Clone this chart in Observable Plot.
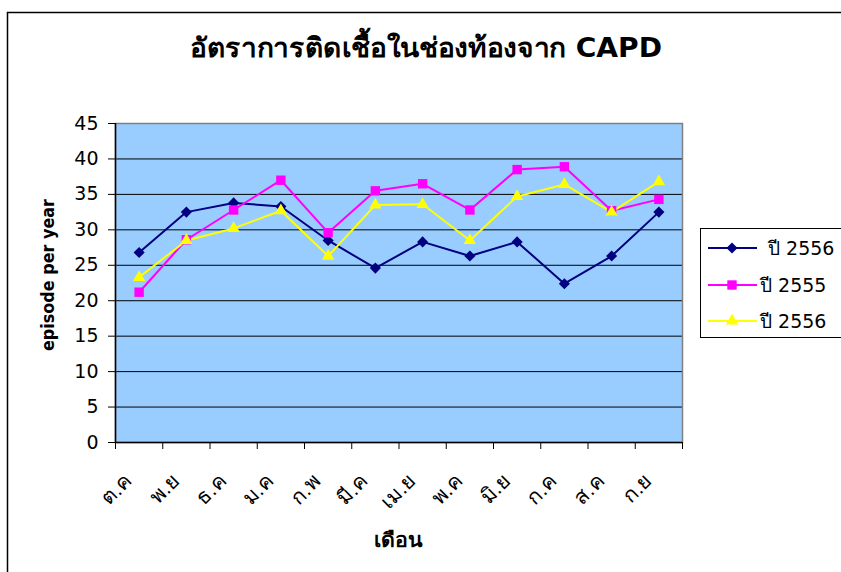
<!DOCTYPE html>
<html>
<head>
<meta charset="utf-8">
<script src="https://cdn.jsdelivr.net/npm/d3@7"></script>
<script src="https://cdn.jsdelivr.net/npm/@observablehq/plot@0.6"></script>
<style>
  html, body { margin: 0; padding: 0; background: #fff; }
  #chart svg { display: block; }
</style>
</head>
<body>
<div id="chart"></div>
<script>
// ---- data ----
const title = "อัตราการติดเชื้อในช่องท้องจาก CAPD";
const yLabel = "episode per year";
const xLabel = "เดือน";
const months = ["ต.ค","พ.ย","ธ.ค","ม.ค","ก.พ","มี.ค","เม.ย","พ.ค","มิ.ย","ก.ค","ส.ค","ก.ย"];
const seriesLabels = ["ปี 2556", "ปี 2555", "ปี 2556"];
const seriesA = [26.8, 32.5, 33.8, 33.3, 28.5, 24.6, 28.3, 26.3, 28.3, 22.4, 26.3, 32.5];
const seriesB = [21.2, 28.6, 32.8, 37.0, 29.6, 35.5, 36.5, 32.8, 38.5, 38.9, 32.7, 34.3];
const seriesC = [23.3, 28.5, 30.2, 32.7, 26.3, 33.5, 33.6, 28.5, 34.7, 36.4, 32.5, 36.8];
const yTicks = [0, 5, 10, 15, 20, 25, 30, 35, 40, 45];

// ---- styles ----
const FONT = "'DejaVu Sans', 'Noto Sans', sans-serif";
const colors = ["#000080", "#FF00FF", "#FFFF00"];
const symbols = ["diamond2", "square", "triangle"];
const radii = [5.0, 5.3, 4.6];

const seriesValues = [seriesA, seriesB, seriesC];
const rows = seriesValues.flatMap((vals, s) =>
  vals.map((v, i) => ({series: s, month: months[i], idx: i, value: v})));

const xPos = d => d.idx + 0.5;

const chart = Plot.plot({
  width: 841,
  height: 572,
  marginLeft: 115,
  marginRight: 159,
  marginTop: 123,
  marginBottom: 130,
  style: {fontFamily: FONT, background: "transparent"},
  x: {domain: [0, months.length], axis: null, label: null},
  y: {domain: [0, 45], axis: null, label: null},
  marks: [
    Plot.frame({fill: "#99CCFF"}),
    Plot.ruleY(yTicks.filter(t => t > 0 && t < 45), {stroke: "#000", strokeWidth: 1}),
    Plot.frame({stroke: "#808080", strokeWidth: 1.5}),
    Plot.ruleY([0], {stroke: "#000", strokeWidth: 1.5}),
    Plot.ruleX([0], {stroke: "#000", strokeWidth: 1.5}),
    Plot.axisY({ticks: yTicks, tickSize: 7, tickPadding: 10, fontSize: 19, label: null,
      tickFormat: d => String(d), stroke: "#000", color: "#000"}),
    Plot.axisX({ticks: d3.range(months.length + 1), tickSize: 7, label: null,
      tickFormat: () => "", stroke: "#000"}),
    ...seriesValues.map((vals, s) =>
      Plot.line(rows.filter(r => r.series === s), {x: xPos, y: "value", stroke: colors[s], strokeWidth: 2})),
    ...seriesValues.map((vals, s) =>
      Plot.dot(rows.filter(r => r.series === s), {x: xPos, y: "value", symbol: () => symbols[s], fill: colors[s], stroke: "none", r: radii[s]})),
    Plot.text(months, {
      x: (d, i) => i + 0.5, y: () => 0, text: d => d,
      rotate: -45, textAnchor: "end", lineAnchor: "bottom",
      dx: -6, dy: 40, fontSize: 21, fill: "#000",
      fontFamily: "'Liberation Sans', Arial, sans-serif"
    })
  ]
});

document.getElementById("chart").appendChild(chart);

const svg = d3.select(chart);

// outer chart border
svg.insert("rect", ":first-child")
  .attr("x", 7.5).attr("y", 12.5).attr("width", 900).attr("height", 700)
  .attr("fill", "#fff").attr("stroke", "#000").attr("stroke-width", 1.5);

// title
svg.append("text")
  .attr("x", 426).attr("y", 57)
  .attr("text-anchor", "middle")
  .attr("font-family", FONT)
  .attr("font-size", 27).attr("font-weight", "bold").attr("fill", "#000")
  .attr("textLength", 472).attr("lengthAdjust", "spacingAndGlyphs")
  .text(title);

// y label
svg.append("text")
  .attr("transform", "translate(54,275) rotate(-90)")
  .attr("text-anchor", "middle")
  .attr("font-family", FONT)
  .attr("font-size", 17).attr("font-weight", "bold").attr("fill", "#000")
  .attr("textLength", 152).attr("lengthAdjust", "spacingAndGlyphs")
  .text(yLabel);

// x label
svg.append("text")
  .attr("x", 398).attr("y", 547)
  .attr("text-anchor", "middle")
  .attr("font-family", FONT)
  .attr("font-size", 20).attr("font-weight", "bold").attr("fill", "#000")
  .attr("textLength", 49).attr("lengthAdjust", "spacingAndGlyphs")
  .text(xLabel);

// legend
const legend = svg.append("g");
legend.append("rect")
  .attr("x", 700.5).attr("y", 228.5).attr("width", 160).attr("height", 109)
  .attr("fill", "#fff").attr("stroke", "#000").attr("stroke-width", 1);
const legendY = [248, 285, 321];
const legendTextX = [768, 760, 760];
const symbolMap = {diamond2: d3.symbolDiamond2, square: d3.symbolSquare, triangle: d3.symbolTriangle};
seriesLabels.forEach((lab, s) => {
  const y = legendY[s];
  legend.append("line")
    .attr("x1", 708).attr("x2", 757).attr("y1", y).attr("y2", y)
    .attr("stroke", colors[s]).attr("stroke-width", 2);
  legend.append("path")
    .attr("transform", `translate(732,${y})`)
    .attr("d", d3.symbol(symbolMap[symbols[s]], Math.PI * radii[s] * radii[s])())
    .attr("fill", colors[s]);
  legend.append("text")
    .attr("x", legendTextX[s]).attr("y", y + 7)
    .attr("text-anchor", "start")
    .attr("font-family", FONT)
    .attr("font-size", 19).attr("fill", "#000")
    .text(lab);
});
</script>
</body>
</html>
